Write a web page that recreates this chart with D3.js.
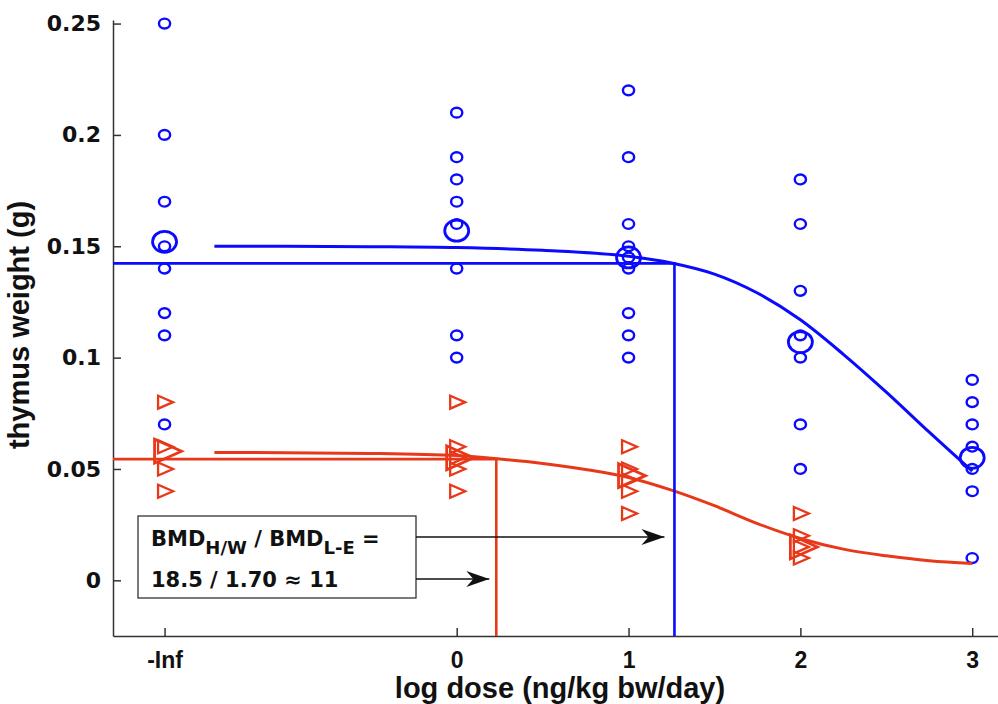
<!DOCTYPE html>
<html>
<head>
<meta charset="utf-8">
<script src="https://cdn.jsdelivr.net/npm/d3@7"></script>
<style>
  body { margin: 0; background: #fff; }
  .tick line, .domain { stroke: #333; stroke-width: 1.5; }
  .ylab text { font-family: "DejaVu Sans", sans-serif; font-weight: bold; font-size: 22px; fill: #111; }
  .xlab text { font-family: "Liberation Sans", Arial, sans-serif; font-weight: bold; font-size: 23px; fill: #111; }
  .title { font-family: "Liberation Sans", Arial, sans-serif; font-weight: bold; font-size: 29px; fill: #111; }
  .note { font-family: "DejaVu Sans", sans-serif; font-weight: bold; font-size: 21px; fill: #111; }
</style>
</head>
<body>
<script>
const width = 998;
const height = 704;

// x positions of the dose groups (log10 dose, control drawn at -1.7)
const doseTicks = [-1.7, 0, 1, 2, 3];
const doseLabels = ["-Inf", "0", "1", "2", "3"];
const weightTicks = [0, 0.05, 0.1, 0.15, 0.2, 0.25];

// H/W rats (blue circles), one list per dose group
const hwPoints = [
  [0.25, 0.2, 0.17, 0.15, 0.14, 0.12, 0.11, 0.07],
  [0.21, 0.19, 0.18, 0.17, 0.16, 0.14, 0.11, 0.10],
  [0.22, 0.19, 0.16, 0.15, 0.145, 0.14, 0.12, 0.11, 0.10],
  [0.18, 0.16, 0.13, 0.11, 0.10, 0.07, 0.05],
  [0.09, 0.08, 0.07, 0.06, 0.05, 0.04, 0.01]
];
const hwMeans = [0.152, 0.157, 0.145, 0.107, 0.055];

// L-E rats (red triangles)
const lePoints = [
  [0.08, 0.06, 0.05, 0.04],
  [0.08, 0.06, 0.055, 0.05, 0.04],
  [0.06, 0.05, 0.045, 0.04, 0.03],
  [0.03, 0.02, 0.015, 0.01],
  []
];
const leMeans = [0.058, 0.055, 0.047, 0.015, null];

// fitted curves
const hwFitDose = [-1.41, -1, -0.5, 0, 0.5, 1, 1.25, 1.5, 1.75, 2, 2.25, 2.5, 2.75, 3];
const hwFitWeight = [0.150, 0.150, 0.1498, 0.1494, 0.1482, 0.1455, 0.1425, 0.1375, 0.129, 0.117, 0.1015, 0.0845, 0.0665, 0.049];
const leFitDose = [-1.41, -1, -0.5, 0, 0.25, 0.5, 0.75, 1, 1.25, 1.5, 1.75, 2, 2.25, 2.5, 2.75, 3];
const leFitWeight = [0.0574, 0.0573, 0.057, 0.056, 0.0545, 0.0525, 0.0498, 0.0462, 0.0405, 0.0335, 0.0255, 0.0188, 0.014, 0.011, 0.0088, 0.0076];

// benchmark doses (ng/kg bw/day) and the response levels
const bmdHW = 18.5, bmdLE = 1.70;
const bmrHW = 0.1423, bmrLE = 0.0544;

const blue = "#0a0aff";
const red = "#e8381a";

const svg = d3
  .select("body")
  .append("svg")
  .attr("width", width)
  .attr("height", height);

const x = d3.scaleLinear().domain([-2, 3.15]).range([113, 998]);
const y = d3.scaleLinear().domain([-0.025, 0.2516]).range([636, 20]);

// axes
svg
  .append("g")
  .attr("class", "ylab")
  .attr("transform", "translate(113,0)")
  .call(
    d3.axisLeft(y)
      .tickValues(weightTicks)
      .tickFormat(d => (d === 0 ? "0" : String(d)))
      .tickSize(-8)
      .tickSizeOuter(0)
      .tickPadding(12)
  );

const xAxis = svg
  .append("g")
  .attr("class", "xlab")
  .attr("transform", "translate(0,636)")
  .call(
    d3.axisBottom(x)
      .tickValues(doseTicks)
      .tickFormat((d, i) => doseLabels[i])
      .tickSize(-8)
      .tickSizeOuter(0)
  );
xAxis.selectAll("text").attr("y", 32).attr("dy", 0);

svg
  .append("text")
  .attr("class", "title")
  .attr("x", 560)
  .attr("y", 698)
  .attr("text-anchor", "middle")
  .text("log dose (ng/kg bw/day)");

svg
  .append("text")
  .attr("class", "title")
  .attr("transform", "translate(29,325) rotate(-90)")
  .attr("text-anchor", "middle")
  .attr("font-size", 28)
  .text("thymus weight (g)");

// data markers
const tri = (w, h, t) => `M${-w},${-h}L${-w},${h}L${t},0Z`;

hwPoints.forEach((group, i) => {
  svg
    .append("g")
    .selectAll("ellipse")
    .data(group)
    .join("ellipse")
    .attr("cx", x(doseTicks[i]))
    .attr("cy", d => y(d))
    .attr("rx", 5.6)
    .attr("ry", 4.9)
    .attr("fill", "none")
    .attr("stroke", blue)
    .attr("stroke-width", 2.4);
});

svg
  .append("g")
  .selectAll("ellipse")
  .data(hwMeans)
  .join("ellipse")
  .attr("cx", (d, i) => x(doseTicks[i]))
  .attr("cy", d => y(d))
  .attr("rx", 12)
  .attr("ry", 10.5)
  .attr("fill", "none")
  .attr("stroke", blue)
  .attr("stroke-width", 2.8);

lePoints.forEach((group, i) => {
  svg
    .append("g")
    .selectAll("path")
    .data(group)
    .join("path")
    .attr("d", tri(6.5, 6.5, 8.5))
    .attr("transform", d => `translate(${x(doseTicks[i])},${y(d)})`)
    .attr("fill", "none")
    .attr("stroke", red)
    .attr("stroke-width", 2.3);
});

svg
  .append("g")
  .selectAll("path")
  .data(leMeans.map((m, i) => [doseTicks[i], m]).filter(d => d[1] !== null))
  .join("path")
  .attr("d", tri(10, 12, 17))
  .attr("transform", d => `translate(${x(d[0])},${y(d[1])})`)
  .attr("fill", "none")
  .attr("stroke", red)
  .attr("stroke-width", 2.8);

// fitted curves
const line = d3
  .line()
  .x(d => x(d[0]))
  .y(d => y(d[1]))
  .curve(d3.curveMonotoneX);

svg
  .append("path")
  .attr("d", line(d3.zip(hwFitDose, hwFitWeight)))
  .attr("fill", "none")
  .attr("stroke", blue)
  .attr("stroke-width", 3);

svg
  .append("path")
  .attr("d", line(d3.zip(leFitDose, leFitWeight)))
  .attr("fill", "none")
  .attr("stroke", red)
  .attr("stroke-width", 3);

// BMD guide lines
[[bmdHW, bmrHW, blue], [bmdLE, bmrLE, red]].forEach(([bmd, bmr, col]) => {
  const bx = x(Math.log10(bmd));
  svg
    .append("path")
    .attr("d", `M${x.range()[0]},${y(bmr)}H${bx}V${y.range()[0]}`)
    .attr("fill", "none")
    .attr("stroke", col)
    .attr("stroke-width", 2.6);
});

// annotation box with arrows
svg
  .append("defs")
  .append("marker")
  .attr("id", "head")
  .attr("viewBox", "-24 -9 26 18")
  .attr("refX", 0)
  .attr("refY", 0)
  .attr("markerWidth", 26)
  .attr("markerHeight", 18)
  .attr("markerUnits", "userSpaceOnUse")
  .attr("orient", "auto")
  .append("path")
  .attr("d", "M0,0L-23,-8L-16,0L-23,8Z")
  .attr("fill", "#111");

svg
  .append("rect")
  .attr("x", 138)
  .attr("y", 516)
  .attr("width", 278)
  .attr("height", 82)
  .attr("fill", "#fff")
  .attr("stroke", "#333")
  .attr("stroke-width", 1.3);

[[537, x(Math.log10(bmdHW)) - 10], [579, x(Math.log10(bmdLE)) - 7]].forEach(([ay, tip]) => {
  svg
    .append("line")
    .attr("x1", 416)
    .attr("y1", ay)
    .attr("x2", tip)
    .attr("y2", ay)
    .attr("stroke", "#111")
    .attr("stroke-width", 1.3)
    .attr("marker-end", "url(#head)");
});

const t1 = svg.append("text").attr("class", "note").attr("x", 151).attr("y", 546);
t1.append("tspan").text("BMD");
t1.append("tspan").attr("dy", 8).attr("font-size", 18).text("H/W");
t1.append("tspan").attr("dy", -8).text(" / BMD");
t1.append("tspan").attr("dy", 8).attr("font-size", 18).text("L-E");
t1.append("tspan").attr("dy", -8).text(" =");

svg
  .append("text")
  .attr("class", "note")
  .attr("x", 151)
  .attr("y", 587)
  .text("18.5 / 1.70 \u2248 11");
</script>
</body>
</html>
